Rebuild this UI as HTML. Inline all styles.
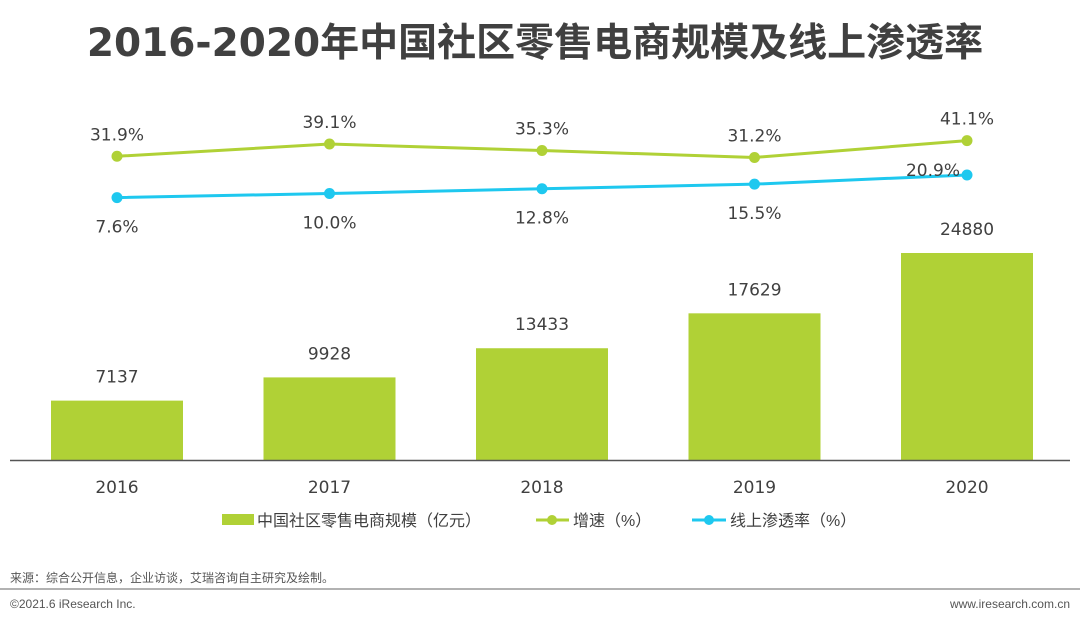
<!DOCTYPE html>
<html><head><meta charset="utf-8"><style>
body{margin:0;background:#fff;width:1080px;height:624px;overflow:hidden;font-family:"Liberation Sans","Noto Sans CJK SC",sans-serif}
.n{font-family:"DejaVu Sans","Noto Sans CJK SC",sans-serif}
</style></head><body>
<svg width="1080" height="624" style="font-family:'Liberation Sans','Noto Sans CJK SC',sans-serif">
<text x="535" y="56" text-anchor="middle" font-size="39" font-weight="bold" fill="#404040" class="n">2016-2020年中国社区零售电商规模及线上渗透率</text>
<g id="plot"></g>
<line x1="10" y1="460.5" x2="1070" y2="460.5" stroke="#555" stroke-width="1.5"/>
<g font-size="16" fill="#404040">
<g><rect x="222" y="514" width="32" height="11" fill="#b0d136"/><text x="257" y="526">中国社区零售电商规模（亿元）</text></g>
<g><line x1="536" y1="520" x2="569" y2="520" stroke="#b0d136" stroke-width="3"/><circle cx="552" cy="520" r="5" fill="#b0d136"/><text x="573" y="526">增速（%）</text></g>
<g><line x1="692" y1="520" x2="726" y2="520" stroke="#1ec8ef" stroke-width="3"/><circle cx="709" cy="520" r="5" fill="#1ec8ef"/><text x="730" y="526">线上渗透率（%）</text></g>
</g>
<text x="10" y="582" font-size="12" fill="#555">来源：综合公开信息，企业访谈，艾瑞咨询自主研究及绘制。</text>
<line x1="0" y1="589" x2="1080" y2="589" stroke="#999" stroke-width="1.5"/>
<text x="10" y="608" font-size="12" fill="#555">©2021.6 iResearch Inc.</text>
<text x="1070" y="608" font-size="12" fill="#555" text-anchor="end">www.iresearch.com.cn</text>
</svg>
<script>
const categories=["2016","2017","2018","2019","2020"];
const scaleValues=[7137,9928,13433,17629,24880];
const growthValues=[31.9,39.1,35.3,31.2,41.1];
const penetrationValues=[7.6,10.0,12.8,15.5,20.9];
const NS="http://www.w3.org/2000/svg";
const g=document.getElementById('plot');
const xC=i=>117+i*212.5;
const yBar=v=>460-v*0.00832;
const yLine=v=>210.5-v*1.7;
function mk(t,a,txt){const e=document.createElementNS(NS,t);for(const k in a)e.setAttribute(k,a[k]);if(txt!==undefined)e.textContent=txt;g.appendChild(e);return e;}
categories.forEach((c,i)=>{
 const b=mk('rect',{x:xC(i)-66,y:yBar(scaleValues[i]),width:132,height:460-yBar(scaleValues[i]),fill:'#b0d136'});
 
 
 const l=mk('text',{x:xC(i),y:yBar(scaleValues[i])-18,'text-anchor':'middle','font-size':17,fill:'#404040',class:'n'},String(scaleValues[i]));
 
 
 const t=mk('text',{x:xC(i),y:493,'text-anchor':'middle','font-size':17,fill:'#404040',class:'n'},c);
 
 
});
function series(vals,color,name,labelFn){
 const pl=mk('polyline',{points:vals.map((v,i)=>xC(i)+','+yLine(v)).join(' '),fill:'none',stroke:color,'stroke-width':3});
 
 
 vals.forEach((v,i)=>{
  const c=mk('circle',{cx:xC(i),cy:yLine(v),r:5.5,fill:color});
  
  
  const p=labelFn(i,v);
  const t=mk('text',{x:p[0],y:p[1],'text-anchor':'middle','font-size':17,fill:'#404040',class:'n'},v.toFixed(1)+'%');
  
  
 });
}
series(growthValues,'#b0d136','growth',(i,v)=>[xC(i),yLine(v)-16]);
series(penetrationValues,'#1ec8ef','penetration',(i,v)=>i===4?[xC(i)-34,yLine(v)+1]:[xC(i),yLine(v)+35]);
</script>
</body></html>
